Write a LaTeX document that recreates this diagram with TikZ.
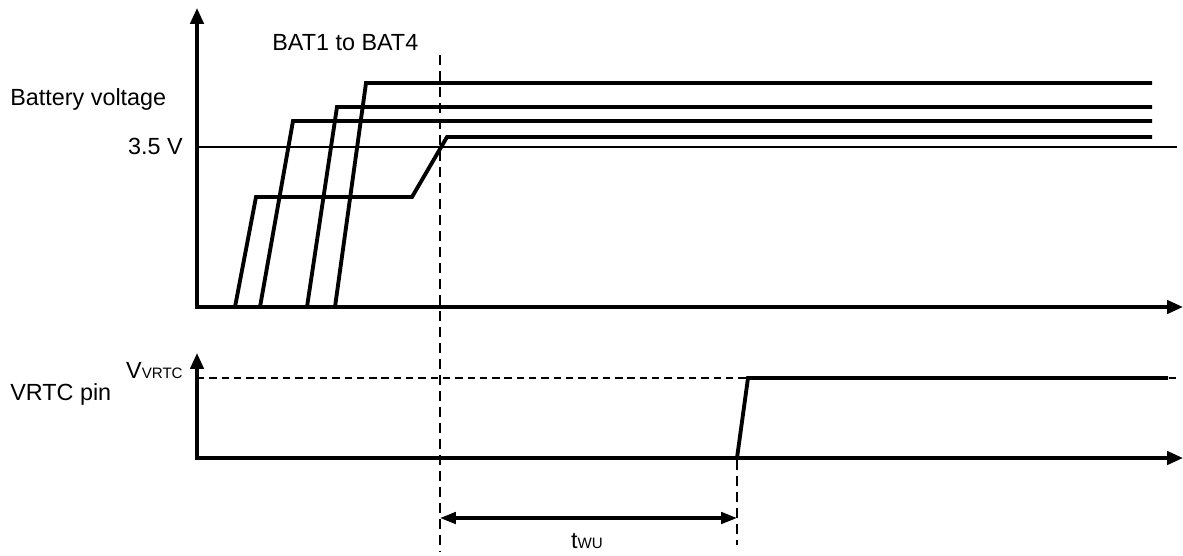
\documentclass[tikz,border=0pt]{standalone}
\usepackage{fontspec}
\setmainfont{Liberation Sans}
\usetikzlibrary{arrows.meta}
\tikzset{
  axis/.style={line width=2pt, line join=miter, {Triangle[length=9pt,width=7.5pt]}-{Triangle[length=9pt,width=7.5pt]}},
  wave/.style={line width=2.2pt, line join=miter},
  thinref/.style={line width=0.9pt},
  level/.style={line width=1.4pt, dash pattern=on 4.2pt off 2.8pt},
  marker/.style={line width=1.4pt, dash pattern=on 5.7pt off 3.4pt},
  dim/.style={line width=1.8pt, {Triangle[length=9pt,width=6.5pt]}-{Triangle[length=9pt,width=6.5pt]}},
  txt/.style={font=\fontsize{13.3}{16}\selectfont, inner sep=0pt},
}
\newcommand{\smallsub}[1]{{\fontsize{8.6}{10}\selectfont #1}}

\begin{document}
\begin{tikzpicture}[x=0.02cm, y=-0.02cm]
  \useasboundingbox (0,0) rectangle (1183,555);

  % battery voltage axes
  \coordinate (o1) at (197,307);
  \coordinate (o2) at (197,458);
  \draw[axis] (197,8) -- (o1) -- (1183,307);
  \draw[thinref] (197,147) -- (1177,147);

  % BAT1 to BAT4
  \draw[wave] (235,307) -- (256,197) -- (412,197) -- (447,137) -- (1152,137);
  \foreach \xa/\xb/\yl in {260/293/121, 307/337/107, 335/366/83} {
    \draw[wave] (\xa,307) -- (\xb,\yl) -- (1152,\yl);
  }

  % VRTC pin axes
  \draw[axis] (197,353) -- (o2) -- (1183,458);
  \draw[level] (197,378) -- (1177,378);
  \draw[wave] (737,458) -- (748,378) -- (1168,378);

  % timing markers
  \coordinate (start) at (440,518);
  \coordinate (ready) at (737,518);
  \draw[marker] (440,55) -- (440,552);
  \draw[marker] (737,460) -- (737,545);
  \draw[dim] (start) -- (ready);

  % labels
  \node[txt, anchor=base west] (bv) at (10,105) {Battery voltage};
  \node[txt, anchor=base east] (th) at (183,154) {3.5 V};
  \node[txt, anchor=base west] (bat) at (272,50) {BAT1 to BAT4};
  \node[txt, anchor=base west] (pin) at (10,400) {VRTC pin};
  \node[txt, anchor=base east] (vv) at (183,378) {V\smallsub{VRTC}};
  \node[txt, anchor=base] (twu) at (587,548) {t\smallsub{WU}};
\end{tikzpicture}
\end{document}
